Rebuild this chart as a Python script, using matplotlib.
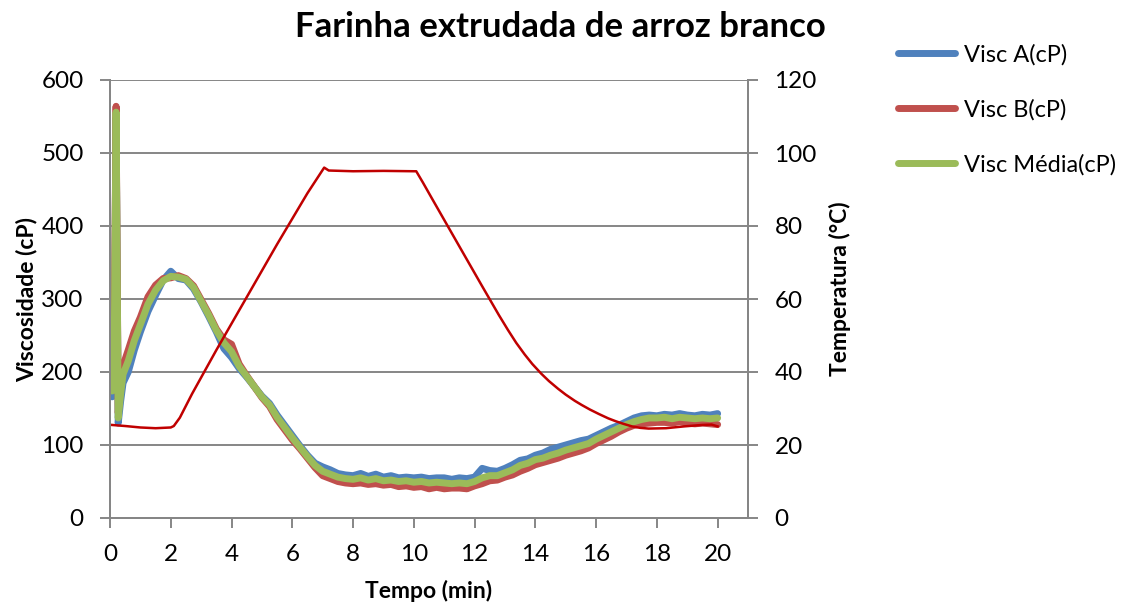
import matplotlib

matplotlib.use("Agg")
import matplotlib.pyplot as plt

plt.rcParams["font.family"] = ["Lato", "DejaVu Sans"]

# viscosity readings (cP) against time (min)
tempo = [0.00, 0.07, 0.13, 0.20, 0.27, 0.35, 0.43, 0.60, 0.80,
         1.00, 1.25, 1.50, 1.75, 2.00, 2.25, 2.50, 2.75, 3.00, 3.25,
         3.50, 3.75, 4.00, 4.25, 4.50, 4.75, 5.00, 5.25, 5.50, 5.75,
         6.00, 6.25, 6.50, 6.75, 7.00, 7.25, 7.50, 7.75, 8.00, 8.25,
         8.50, 8.75, 9.00, 9.25, 9.50, 9.75, 10.00, 10.25, 10.50, 10.75,
         11.00, 11.25, 11.50, 11.75, 12.00, 12.25, 12.50, 12.75, 13.00, 13.25,
         13.50, 13.75, 14.00, 14.25, 14.50, 14.75, 15.00, 15.25, 15.50, 15.75,
         16.00, 16.25, 16.50, 16.75, 17.00, 17.25, 17.50, 17.75, 18.00, 18.25,
         18.50, 18.75, 19.00, 19.25, 19.50, 19.75, 20.00]

visc_a = [185, 166, 178, 548, 130, 160, 185, 200, 230,
          255, 283, 305, 326, 338, 328, 326, 314, 296, 276,
          255, 232, 220, 205, 193, 180, 167, 157, 141, 127,
          113, 99, 86, 75, 70, 66, 61, 59, 58, 61,
          57, 60, 56, 58, 55, 56, 55, 56, 54, 55,
          55, 53, 55, 54, 56, 68, 65, 64, 68, 73,
          79, 81, 86, 89, 94, 97, 100, 103, 106, 108,
          113, 118, 123, 127, 132, 137, 140, 141, 140, 142,
          141, 143, 141, 140, 142, 141, 143]

visc_b = [195, 182, 186, 564, 144, 180, 209, 230, 256,
          275, 303, 319, 328, 329, 332, 328, 318, 299, 280,
          259, 244, 238, 211, 195, 180, 165, 153, 135, 121,
          107, 95, 82, 69, 58, 54, 50, 48, 47, 48,
          46, 47, 45, 46, 43, 44, 42, 43, 40, 42,
          40, 41, 41, 40, 44, 47, 51, 52, 56, 59,
          64, 68, 73, 76, 79, 82, 86, 89, 92, 96,
          102, 107, 112, 118, 123, 127, 129, 130, 131, 131,
          130, 132, 130, 129, 130, 129, 128]

visc_media = [190, 174, 182, 556, 137, 170, 197, 215, 243,
              265, 293, 312, 325, 331, 330, 327, 316, 297, 278,
              257, 240, 228, 208, 194, 180, 166, 155, 138, 124,
              110, 97, 84, 72, 64, 60, 56, 54, 53, 55,
              52, 54, 51, 52, 50, 51, 49, 50, 48, 49,
              48, 47, 48, 47, 50, 55, 58, 58, 62, 66,
              72, 75, 80, 82, 86, 89, 93, 96, 99, 102,
              108, 113, 118, 123, 128, 132, 135, 137, 137, 138,
              136, 138, 137, 136, 137, 136, 137]

# temperature profile (deg C)
tempo_temp = [0.05, 0.5, 1.0, 1.5, 2.0, 2.1, 2.3, 2.7, 3.5, 4.5, 5.5, 6.5,
              7.05, 7.2, 8.0, 9.0, 10.0, 10.08, 10.3, 10.6, 11.17, 11.72,
              12.25, 12.8, 13.1, 13.37, 13.65, 13.9, 14.2, 14.45, 14.75, 15.0,
              15.3, 15.53, 15.8, 16.09, 16.4, 16.65, 16.9,
              17.18, 17.45, 17.73, 18.3, 18.9, 19.5, 19.8, 20.0]
temperatura = [25.5, 25.2, 24.8, 24.6, 24.8, 25.2, 27.5, 34.0, 46.0, 60.5, 75.0, 89.0,
               96.0, 95.2, 95.0, 95.1, 95.0, 95.0, 91.9, 87.5, 79.2, 71.2,
               63.5, 55.6, 51.5, 48.0, 44.8, 42.2, 39.5, 37.5, 35.4, 33.8,
               32.1, 30.95, 29.7, 28.5, 27.3, 26.5, 25.8,
               25.1, 24.7, 24.5, 24.6, 25.1, 25.5, 25.6, 25.1]

x_ticks = [0, 2, 4, 6, 8, 10, 12, 14, 16, 18, 20]
visc_ticks = [0, 100, 200, 300, 400, 500, 600]
temp_ticks = [0, 20, 40, 60, 80, 100, 120]

GRAY = "#868686"

fig = plt.figure(figsize=(11.31, 6.09), dpi=100)
ax = fig.add_axes([110 / 1131, 1 - 518 / 609, 638 / 1131, 438 / 609])
ax2 = ax.twinx()

ax.plot(tempo, visc_a, color="#4F81BD", linewidth=5, label="Visc A(cP)", solid_capstyle="round", zorder=3)
ax.plot(tempo, visc_b, color="#C0504D", linewidth=5, label="Visc B(cP)", solid_capstyle="round", zorder=4)
ax.plot(tempo, visc_media, color="#9BBB59", linewidth=5, label="Visc Média(cP)", solid_capstyle="round", zorder=5)
ax2.plot(tempo_temp, temperatura, color="#C00000", linewidth=1.8)

ax.set_xlim(0, 21)
ax.set_ylim(0, 600)
ax2.set_ylim(0, 120)
ax.set_xticks(x_ticks)
ax.set_yticks(visc_ticks)
ax2.set_yticks(temp_ticks)
ax.grid(True, axis="y", color=GRAY, linewidth=1.4)
ax.set_axisbelow(True)

for a in (ax, ax2):
    a.spines["top"].set_visible(False)
    for side in ("left", "right", "bottom"):
        a.spines[side].set_color(GRAY)
        a.spines[side].set_linewidth(1.4)
    a.tick_params(colors=GRAY, labelcolor="black", width=1.4, length=7, direction="out",
                  labelsize=17.5, pad=12)

ax.set_xlabel("Tempo (min)", fontsize=16.5, fontweight="bold")
ax.set_ylabel("Viscosidade (cP)", fontsize=16.5, fontweight="bold")
ax2.set_ylabel("Temperatura (°C)", fontsize=16.5, fontweight="bold")
ax.xaxis.label.set_va("center")
ax.xaxis.set_label_coords(0.5, -0.167)
ax.yaxis.label.set_va("center")
ax.yaxis.set_label_coords(-0.130, 0.5)
ax2.yaxis.label.set_va("center")
ax2.yaxis.set_label_coords(1.144, 0.523)

fig.text(560 / 1131, 1 - 27 / 609, "Farinha extrudada de arroz branco", ha="center", va="center",
         fontsize=25, fontweight="bold")

fig.legend(loc="upper left", bbox_to_anchor=(898 / 1131, 1 - 44 / 609), frameon=False,
           fontsize=17, handlelength=2.4, handletextpad=0.4, labelspacing=1.42,
           borderpad=0, borderaxespad=0)

fig.savefig("out.png", dpi=100)
